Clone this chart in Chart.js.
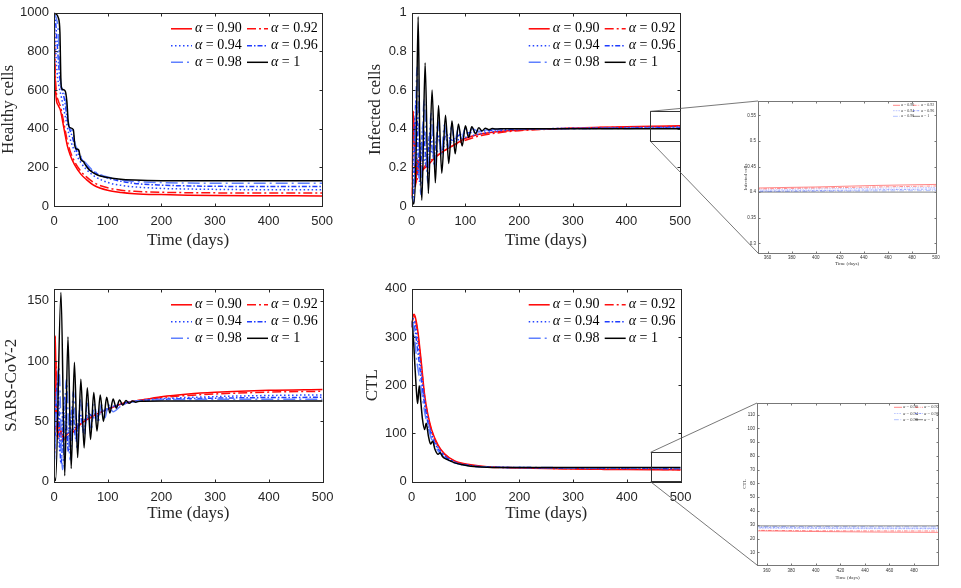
<!DOCTYPE html>
<html>
<head>
<meta charset="utf-8">
<script src="https://cdn.jsdelivr.net/npm/chart.js@4.4.0/dist/chart.umd.min.js"></script>
<style>
  body { margin: 0; background: #fff; }
  #wrap { position: relative; width: 961px; height: 588px; overflow: hidden; background: #fff; }
  #wrap canvas { position: absolute; }
  #ov { left: 0; top: 0; pointer-events: none; }
</style>
</head>
<body>
<div id="wrap">
  <canvas id="cH"></canvas>
  <canvas id="cI"></canvas>
  <canvas id="cV"></canvas>
  <canvas id="cC"></canvas>
  <canvas id="cIz"></canvas>
  <canvas id="cCz"></canvas>
  <canvas id="ov" width="961" height="588"></canvas>
</div>
<script>
(function(){
  'use strict';

  // legend labels (fractional order)
  const alphas = ['0.90', '0.92', '0.94', '0.96', '0.98', '1'];

  // Healthy cells, [time, value] per alpha
  const healthy090 = [[0,1000],[1,800],[2,660],[4,560],[8,520],[12,495],[16,440],[20,380],[25,310],[30,265],[38,215],[50,165],[60,138],[75,106],[100,81],[125,70],[150,64],[200,59],[250,56],[300,54],[400,53],[500,52]];
  const healthy092 = [[0,1000],[1,860],[2,720],[4,600],[8,545],[12,515],[16,465],[20,405],[25,335],[30,285],[38,232],[50,180],[60,152],[75,120],[100,94],[125,82],[150,76],[200,71],[250,69],[300,68],[400,67],[500,67]];
  const healthy094 = [[0,1000],[2,880],[4,760],[7,660],[10,610],[14,560],[18,505],[22,450],[27,380],[32,330],[40,275],[50,225],[60,190],[75,155],[100,122],[125,107],[150,99],[200,91],[250,88],[300,86],[400,84],[500,84]];
  const healthy096 = [[0,1000],[3,950],[6,840],[9,720],[12,635],[16,590],[20,545],[24,465],[29,400],[34,360],[40,300],[46,265],[52,240],[60,210],[75,175],[100,145],[125,128],[150,117],[200,108],[250,104],[300,102],[400,101],[500,101]];
  const healthy098 = [[0,1000],[4,975],[8,900],[11,700],[14,615],[20,590],[25,470],[29,405],[35,385],[40,315],[46,285],[52,245],[60,220],[70,190],[85,165],[100,150],[125,135],[150,127],[200,121],[250,119],[300,118],[400,118],[500,118]];
  const healthy100 = [[0,1000],[3,995],[8,975],[11,900],[13,640],[15,605],[21,595],[24,540],[27,420],[30,405],[36,395],[39,310],[42,295],[46,290],[50,240],[55,230],[58,215],[63,195],[70,178],[80,162],[95,150],[120,140],[150,134],[200,131],[300,131],[500,131]];

  // Infected cells
  const infected090 = [[0,0.05],[1.5,0.35],[3,0.49],[7,0.10],[11,0.24],[16,0.17],[22,0.19],[30,0.21],[43,0.25],[60,0.285],[80,0.318],[100,0.35],[120,0.368],[150,0.382],[200,0.393],[250,0.399],[300,0.403],[352,0.408],[400,0.410],[450,0.413],[500,0.415]];
  const infected092 = [[0,0.05],[2,0.30],[4,0.46],[9,0.12],[14,0.26],[20,0.19],[28,0.22],[40,0.245],[55,0.275],[75,0.31],[100,0.34],[130,0.365],[160,0.378],[200,0.39],[250,0.397],[300,0.402],[352,0.406],[400,0.408],[500,0.412]];
  const infected094 = [[0,0.05],[2,0.08],[6,0.45],[12,0.16],[18,0.33],[25,0.22],[32,0.30],[40,0.27],[55,0.30],[75,0.33],[100,0.355],[130,0.375],[160,0.388],[200,0.396],[250,0.400],[352,0.404],[400,0.406],[500,0.409]];
  const infected096 = [[0,0.05],[3,0.03],[8,0.55],[15,0.12],[21,0.42],[28,0.20],[34,0.38],[41,0.25],[48,0.37],[56,0.29],[64,0.37],[75,0.34],[90,0.37],[110,0.38],[140,0.39],[180,0.397],[250,0.400],[352,0.402],[400,0.403],[500,0.406]];
  const infected098 = [[0,0.05],[4,0.02],[10,0.72],[17,0.06],[23,0.55],[30,0.12],[36,0.48],[42,0.20],[49,0.44],[55,0.26],[61,0.42],[68,0.30],[74,0.41],[80,0.33],[87,0.405],[93,0.355],[100,0.402],[106,0.37],[113,0.40],[125,0.385],[140,0.395],[170,0.399],[250,0.400],[352,0.401],[500,0.403]];
  const infected100 = [[0,0.05],[4,0.01],[8,0.25],[12,0.98],[15,0.35],[19,0.03],[25,0.74],[31,0.065],[38,0.60],[44,0.12],[50,0.52],[56,0.17],[63,0.47],[69,0.22],[75,0.44],[81,0.27],[87,0.425],[94,0.31],[100,0.415],[106,0.355],[112,0.41],[119,0.375],[125,0.405],[131,0.388],[137,0.403],[144,0.395],[150,0.401],[156,0.398],[165,0.40],[200,0.40],[300,0.40],[400,0.40],[500,0.40]];

  // SARS-CoV-2
  const virus090 = [[0,10],[1,60],[2.5,121],[4,70],[6,40],[9,50],[13,42],[18,36],[25,37],[35,41],[50,48],[75,55],[100,60],[130,65],[160,67.5],[200,70.5],[250,72.8],[300,74.2],[400,75.8],[500,76.5]];
  const virus092 = [[0,10],[2,50],[4,100],[6.5,35],[10,47],[15,33],[22,38],[32,42],[50,48],[75,55],[100,60],[130,65],[160,67.5],[200,69.8],[250,71.6],[300,72.8],[400,74.3],[500,75]];
  const virus094 = [[0,10],[5,78],[11,25],[17,60],[24,34],[31,52],[38,41],[50,49],[75,56],[100,61],[130,65],[160,67.3],[200,68.8],[300,70.6],[400,71.5],[500,72]];
  const virus096 = [[0,10],[7,82],[13,15],[20,70],[27,25],[34,62],[41,35],[48,57],[55,42],[63,57],[75,53],[90,58],[110,62],[140,66],[170,67.5],[200,68.3],[300,69.3],[400,69.8],[500,70]];
  const virus098 = [[0,10],[9,95],[16,10],[23,85],[30,18],[36,75],[43,28],[49,68],[56,36],[62,65],[69,43],[75,64],[82,49],[88,64],[95,53],[101,64],[110,58],[125,63],[150,66.5],[200,68],[300,68.3],[500,68.4]];
  const virus100 = [[0,5],[3,1],[13,157],[20,5],[26,120],[32,11],[38,99],[44,20],[50,85],[56,28],[62,78],[68,35],[74,74],[80,42],[86,72],[92,50],[98,70],[104,57],[110,68.6],[116,61],[122,67.8],[128,63.5],[134,67.3],[140,65],[146,67],[152,66],[160,66.8],[200,67],[300,67],[500,67]];

  // CTL
  const ctl090 = [[0,320],[2,340],[4.5,347],[8,335],[12,307],[18,246],[24,180],[30,140],[37,108],[49,76],[61,58],[80,43],[110,35],[140,31],[200,28.5],[300,26.2],[352,25.6],[400,25.1],[450,24.7],[500,24.5]];
  const ctl092 = [[0,320],[2,338],[4,344],[8,330],[12,300],[18,238],[24,176],[30,136],[37,105],[49,74],[61,57],[80,42],[110,34],[140,30.5],[200,29],[300,26.8],[352,26],[400,25.7],[500,25.5]];
  const ctl094 = [[0,320],[2,336],[4,338],[8,318],[12,285],[18,225],[24,170],[30,130],[37,100],[49,71],[61,55],[80,41],[110,33.5],[140,30.5],[200,29.3],[300,27.8],[400,27.3],[500,27]];
  const ctl096 = [[0,322],[2,333],[4,330],[8,300],[12,265],[18,210],[24,160],[30,123],[37,95],[49,68],[61,53],[80,40],[110,33],[140,30.5],[200,29.5],[300,28.3],[400,27.8],[500,27.5]];
  const ctl098 = [[0,325],[2,330],[5,305],[9,255],[13,225],[18,190],[24,145],[30,115],[37,88],[49,64],[61,50],[80,39],[110,32.5],[140,30.3],[200,29.6],[300,29],[400,28.7],[500,28.5]];
  const ctl100 = [[0,334],[3,300],[6,240],[9,185],[11,162],[14,199],[17,165],[20,130],[24,108],[27,121],[31,95],[35,78],[39,84],[43,68],[49,57],[53,60],[58,51],[64,47],[72,43],[80,39],[95,35],[110,32],[140,30],[200,29.3],[300,29.2],[500,29.2]];

  // zoom boxes on the main panels: [xmin, xmax, ymin, ymax]
  const zoomInfected = [444, 500, 0.337, 0.49];
  const zoomCtl = [444, 500, 0, 61];

  const LINE_COLORS = ['#ff0000', '#ff1010', '#2444ff', '#1f3cff', '#5f80ff', '#000000'];
  const LINE_DASH = [[], [9, 3, 2, 3], [1.5, 2.5], [5, 2, 1.5, 2], [12, 4, 2, 4], []];
  const INK = '#262626';

  function fade(hex, a){
    const n = parseInt(hex.slice(1), 16);
    return 'rgba(' + (n >> 16) + ',' + ((n >> 8) & 255) + ',' + (n & 255) + ',' + a + ')';
  }

  // plain numbers, no thousands separator, no trailing zeros
  function plainTick(v){ return String(+Number(v).toFixed(4)); }

  function seriesSets(list, thin){
    return list.map((pts, i) => ({
      data: pts.map(p => ({ x: p[0], y: p[1] })),
      borderColor: thin ? fade(LINE_COLORS[i], 0.6) : LINE_COLORS[i],
      borderDash: LINE_DASH[i].map(d => d * (thin ? 0.4 : 1)),
      borderWidth: thin ? 0.8 : 1.5,
      pointRadius: 0,
      cubicInterpolationMode: 'monotone',
      fill: false,
      order: list.length - i
    }));
  }

  // MATLAB-like box with inward ticks on all sides
  const framePlugin = {
    id: 'matFrame',
    afterDatasetsDraw(chart, args, o){
      const { ctx, chartArea: a, scales: { x, y } } = chart;
      const L = Math.round(a.left) + 0.5, R = Math.round(a.right) + 0.5;
      const T = Math.round(a.top) + 0.5, B = Math.round(a.bottom) + 0.5;
      ctx.save();
      ctx.strokeStyle = o.color;
      ctx.lineWidth = 1;
      ctx.strokeRect(L, T, R - L, B - T);
      ctx.beginPath();
      x.ticks.forEach(t => {
        const p = Math.round(x.getPixelForValue(t.value)) + 0.5;
        ctx.moveTo(p, B); ctx.lineTo(p, B - o.len);
        ctx.moveTo(p, T); ctx.lineTo(p, T + o.len);
      });
      y.ticks.forEach(t => {
        const p = Math.round(y.getPixelForValue(t.value)) + 0.5;
        ctx.moveTo(L, p); ctx.lineTo(L + o.len, p);
        ctx.moveTo(R, p); ctx.lineTo(R - o.len, p);
      });
      ctx.stroke();
      ctx.restore();
    }
  };

  // two-column legend without box
  const legendPlugin = {
    id: 'matLegend',
    afterDatasetsDraw(chart, args, o){
      const { ctx, chartArea: a } = chart;
      ctx.save();
      chart.data.datasets.forEach((ds, i) => {
        const y = a.top + o.rows[Math.floor(i / 2)];
        const x0 = a.left + o.cols[i % 2];
        ctx.strokeStyle = ds.borderColor;
        ctx.lineWidth = ds.borderWidth;
        ctx.setLineDash(ds.borderDash);
        ctx.beginPath();
        ctx.moveTo(x0, y);
        ctx.lineTo(x0 + o.len, y);
        ctx.stroke();
        ctx.setLineDash([]);
        ctx.fillStyle = o.color;
        ctx.textBaseline = 'middle';
        let tx = x0 + o.len + o.gap;
        ctx.font = 'italic ' + o.size + 'px "Liberation Serif"';
        ctx.fillText('\u03b1', tx, y);
        tx += ctx.measureText('\u03b1').width;
        ctx.font = o.size + 'px "Liberation Serif"';
        ctx.fillText(' = ' + alphas[i], tx, y);
      });
      ctx.restore();
    }
  };

  function makePanel(id, box, plot, sets, ax){
    const cv = document.getElementById(id);
    cv.width = box.w;
    cv.height = box.h;
    cv.style.left = box.x + 'px';
    cv.style.top = box.y + 'px';
    const yW = plot.l - box.x;
    const xH = box.y + box.h - plot.b;
    const padT = plot.t - box.y;
    const padR = box.x + box.w - plot.r;
    const tickFont = { family: '"Liberation Sans", Arial, Helvetica, sans-serif', size: ax.tickSize };
    const titleFont = { family: '"Liberation Serif", "Times New Roman", serif', size: ax.titleSize, lineHeight: 1 };

    return new Chart(cv, {
      type: 'line',
      data: { datasets: sets },
      options: {
        responsive: false,
        animation: false,
        events: [],
        layout: { padding: { left: 0, top: padT, right: padR, bottom: 0 } },
        plugins: {
          legend: { display: false },
          tooltip: { enabled: false },
          matFrame: { color: ax.frame, len: ax.tickLen },
          matLegend: ax.legend
        },
        scales: {
          x: {
            type: 'linear',
            min: ax.xMin, max: ax.xMax,
            grid: { display: false, drawTicks: false },
            border: { display: false },
            ticks: { stepSize: ax.xStep, includeBounds: false, maxRotation: 0, autoSkip: false,
                     font: tickFont, color: ax.text, padding: ax.xPad, callback: plainTick },
            title: { display: true, text: 'Time (days)', font: titleFont, color: ax.text,
                     padding: { top: 0, bottom: 0 } },
            afterFit: s => { s.height = xH; }
          },
          y: {
            type: 'linear',
            min: ax.yMin, max: ax.yMax,
            grid: { display: false, drawTicks: false },
            border: { display: false },
            ticks: { stepSize: ax.yStep, includeBounds: false, autoSkip: false,
                     font: tickFont, color: ax.text, padding: ax.yPad, callback: plainTick },
            title: { display: true, text: ax.yTitle, font: titleFont, color: ax.text,
                     padding: { top: 0, bottom: 0 } },
            afterFit: s => { s.width = yW; }
          }
        }
      },
      plugins: [framePlugin, legendPlugin]
    });
  }

  const mainLegend = { rows: [16, 33, 49.5], cols: [117, 193], len: 21, gap: 3, size: 14, color: '#000' };
  function mainAxes(extra){
    return Object.assign({
      xMin: 0, xMax: 500, xStep: 100, yMin: 0,
      tickSize: 13, titleSize: 17, tickLen: 3, xPad: 8, yPad: 5,
      frame: INK, text: INK, legend: mainLegend
    }, extra);
  }
  function insetAxes(extra){
    return Object.assign({
      xMin: 352, xMax: 500, xStep: 20,
      tickSize: 4.5, titleSize: 5, tickLen: 2, xPad: 2, yPad: 2,
      frame: '#777', text: '#333'
    }, extra);
  }

  const boxH = { x: 0, y: 0, w: 341, h: 249 };
  const boxI = { x: 367, y: 0, w: 332, h: 249 };
  const boxV = { x: 3, y: 276, w: 338, h: 246 };
  const boxC = { x: 364, y: 276, w: 335, h: 246 };
  const boxIz = { x: 743, y: 95, w: 201, h: 171 };
  const boxCz = { x: 742, y: 397, w: 204, h: 183 };

  const healthyAll = [healthy090, healthy092, healthy094, healthy096, healthy098, healthy100];
  const infectedAll = [infected090, infected092, infected094, infected096, infected098, infected100];
  const virusAll = [virus090, virus092, virus094, virus096, virus098, virus100];
  const ctlAll = [ctl090, ctl092, ctl094, ctl096, ctl098, ctl100];

  makePanel('cH', boxH, { l: 54, t: 8, r: 326, b: 206 }, seriesSets(healthyAll),
    mainAxes({ yMax: 1000, yStep: 200, yTitle: 'Healthy cells' }));

  const chartI = makePanel('cI', boxI, { l: 411.7, t: 8, r: 684, b: 206 }, seriesSets(infectedAll),
    mainAxes({ yMax: 1, yStep: 0.2, yTitle: 'Infected cells' }));

  makePanel('cV', boxV, { l: 54, t: 284, r: 326, b: 481.7 }, seriesSets(virusAll),
    mainAxes({ yMax: 160, yStep: 50, yTitle: 'SARS-CoV-2', xPad: 7.5 }));

  const chartC = makePanel('cC', boxC, { l: 411.7, t: 284, r: 684, b: 481.7 }, seriesSets(ctlAll),
    mainAxes({ yMax: 400, yStep: 100, yTitle: 'CTL', xPad: 7.5 }));

  const chartIz = makePanel('cIz', boxIz, { l: 758, t: 101, r: 936, b: 253 }, seriesSets(infectedAll, true),
    insetAxes({ yMin: 0.281, yMax: 0.578, yStep: 0.05, yTitle: 'Infected cells', xPad: 1.7,
      legend: { rows: [4.3, 9.7, 15.3], cols: [135, 155], len: 7, gap: 1, size: 4, color: '#333' } }));

  const chartCz = makePanel('cCz', boxCz, { l: 757, t: 403, r: 938, b: 565 }, seriesSets(ctlAll, true),
    insetAxes({ xMax: 499.6, yMin: 0.8, yMax: 118.4, yStep: 10, yTitle: 'CTL', xPad: 3,
      legend: { rows: [4.3, 10.5, 16.7], cols: [137, 158], len: 8, gap: 1, size: 4.5, color: '#333' } }));

  // zoom rectangles and connector lines
  function drawZoom(ctx, main, mainBox, inset, insetBox, r){
    const sx = main.scales.x, sy = main.scales.y;
    const x0 = mainBox.x + sx.getPixelForValue(r[0]);
    const x1 = mainBox.x + sx.getPixelForValue(r[1]);
    const yTop = mainBox.y + sy.getPixelForValue(r[3]);
    const yBot = mainBox.y + sy.getPixelForValue(r[2]);
    const a = inset.chartArea;
    ctx.strokeStyle = '#333';
    ctx.lineWidth = 1;
    ctx.strokeRect(Math.round(x0) + 0.5, Math.round(yTop) + 0.5, Math.round(x1 - x0), Math.round(yBot - yTop));
    ctx.strokeStyle = '#555';
    ctx.lineWidth = 0.8;
    ctx.beginPath();
    ctx.moveTo(x0, yTop); ctx.lineTo(insetBox.x + a.left, insetBox.y + a.top);
    ctx.moveTo(x0, yBot); ctx.lineTo(insetBox.x + a.left, insetBox.y + a.bottom);
    ctx.stroke();
  }

  const ov = document.getElementById('ov').getContext('2d');
  drawZoom(ov, chartI, boxI, chartIz, boxIz, zoomInfected);
  drawZoom(ov, chartC, boxC, chartCz, boxCz, zoomCtl);
})();
</script>
</body>
</html>
